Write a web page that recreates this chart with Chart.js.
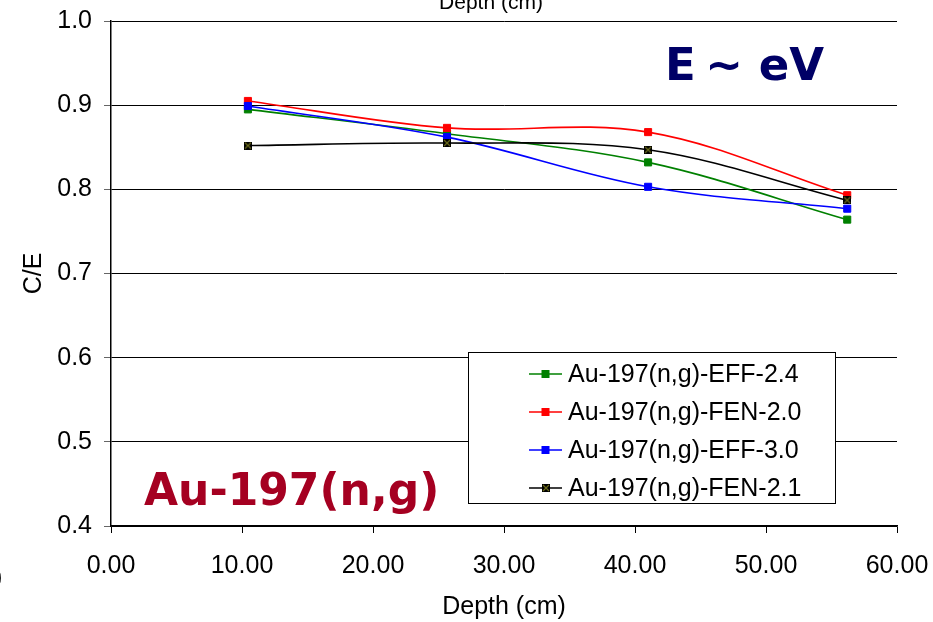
<!DOCTYPE html>
<html><head><meta charset="utf-8">
<script src="https://cdn.jsdelivr.net/npm/chart.js@4/dist/chart.umd.min.js"></script>
<style>html,body{margin:0;padding:0;background:#fff;overflow:hidden}canvas{display:block}</style>
</head><body>
<canvas id="c" width="933" height="622"></canvas>
<script>
// ---- data ----
const depths = [10.45, 25.65, 41.0, 56.2];
const eff24 = [0.895, 0.866, 0.832, 0.764];
const fen20 = [0.905, 0.873, 0.868, 0.793];
const eff30 = [0.899, 0.862, 0.803, 0.777];
const fen21 = [0.852, 0.855, 0.847, 0.787];
const seriesNames = ['Au-197(n,g)-EFF-2.4', 'Au-197(n,g)-FEN-2.0', 'Au-197(n,g)-EFF-3.0', 'Au-197(n,g)-FEN-2.1'];
const seriesColors = ['#008000', '#ff0000', '#0000ff', '#000000'];
const xAxisTitle = 'Depth (cm)';
const yAxisTitle = 'C/E';
const energyLabel = 'E';
const energyLabel2 = '~ eV';
const reactionLabel = 'Au-197(n,g)';

const FONT = "'Liberation Sans', Arial, sans-serif";

// marker with an X for the FEN-2.1 series
function xMarker() {
  const c = document.createElement('canvas');
  c.width = 8; c.height = 8;
  const g = c.getContext('2d');
  g.fillStyle = '#000'; g.fillRect(0, 0, 8, 8);
  g.strokeStyle = '#6b6b1a'; g.lineWidth = 1.2;
  g.beginPath(); g.moveTo(1, 1); g.lineTo(7, 7); g.moveTo(7, 1); g.lineTo(1, 7); g.stroke();
  return c;
}
const blackMarker = xMarker();

function toPts(vals) { return depths.map((d, i) => ({ x: d, y: vals[i] })); }
const allVals = [eff24, fen20, eff30, fen21];

const datasets = allVals.map((v, i) => ({
  label: seriesNames[i],
  data: toPts(v),
  borderColor: seriesColors[i],
  backgroundColor: seriesColors[i],
  borderWidth: 1.6,
  tension: 0.35,
  pointStyle: i === 3 ? blackMarker : 'rect',
  pointRadius: 5,
  pointBorderWidth: 1,
  pointBorderColor: seriesColors[i],
  pointBackgroundColor: seriesColors[i],
  order: 4 - i
}));

const annotations = {
  id: 'annotations',
  afterDatasetsDraw(chart) {
    const ctx = chart.ctx;
    ctx.save();
    // legend box
    const lx = 468.5, ly = 352.5, lw = 367, lh = 151;
    ctx.fillStyle = '#fff';
    ctx.fillRect(lx, ly, lw, lh);
    ctx.strokeStyle = '#000'; ctx.lineWidth = 1;
    ctx.strokeRect(lx, ly, lw, lh);
    ctx.font = '25px ' + FONT;
    ctx.textBaseline = 'middle'; ctx.textAlign = 'left';
    for (let i = 0; i < seriesNames.length; i++) {
      const y = 374 + i * 38;
      ctx.strokeStyle = seriesColors[i]; ctx.lineWidth = 1.6;
      ctx.beginPath(); ctx.moveTo(529, y); ctx.lineTo(562, y); ctx.stroke();
      if (i === 3) ctx.drawImage(blackMarker, 542, y - 4);
      else { ctx.fillStyle = seriesColors[i]; ctx.fillRect(541.5, y - 4, 8, 8); }
      ctx.fillStyle = '#000';
      ctx.fillText(seriesNames[i], 568, y + 1);
    }
    // E ~ eV
    ctx.fillStyle = '#000066';
    ctx.font = "bold 45px 'DejaVu Sans', Verdana, sans-serif";
    ctx.textBaseline = 'alphabetic';
    ctx.textAlign = 'left';
    ctx.fillText(energyLabel, 665, 80);
    ctx.textAlign = 'right';
    ctx.fillText(energyLabel2, 824, 80);
    // Au-197(n,g)
    ctx.fillStyle = '#a50021';
    ctx.font = "bold 44px 'DejaVu Sans', Verdana, sans-serif";
    ctx.textAlign = 'left';
    ctx.fillText(reactionLabel, 144, 505);
    // cut-off title at very top
    ctx.fillStyle = '#000';
    ctx.font = '21px ' + FONT;
    ctx.textAlign = 'center';
    ctx.fillText(xAxisTitle, 491, 9);
    // partial glyph at left edge
    ctx.font = '25px ' + FONT;
    ctx.textAlign = 'right';
    ctx.fillText('0', 2, 587);
    ctx.restore();
  }
};

new Chart(document.getElementById('c'), {
  type: 'line',
  data: { datasets },
  plugins: [annotations],
  options: {
    responsive: false,
    animation: false,
    layout: { padding: { top: 21, right: 36, left: 0, bottom: 0 } },
    plugins: { legend: { display: false }, tooltip: { enabled: false } },
    scales: {
      x: {
        type: 'linear', min: 0, max: 60,
        afterFit(s) { s.height = 96; s.paddingLeft = 0; s.paddingRight = 0; },
        ticks: { stepSize: 10, color: '#000', font: { size: 25, family: FONT }, padding: 18,
                 callback: v => Number(v).toFixed(2), maxRotation: 0 },
        grid: { drawOnChartArea: false, drawTicks: true, tickLength: 7, color: '#000', tickColor: '#000' },
        border: { display: true, color: '#000', width: 1.5 },
        title: { display: true, text: xAxisTitle, color: '#000', font: { size: 25, family: FONT }, padding: { top: 0, bottom: 0 } }
      },
      y: {
        min: 0.4, max: 1.0,
        afterFit(s) { s.width = 111; s.paddingTop = 0; s.paddingBottom = 0; },
        ticks: { stepSize: 0.1, color: '#000', font: { size: 25, family: FONT }, padding: 12,
                 callback: v => Number(v).toFixed(1) },
        grid: { color: '#000', lineWidth: 1, drawTicks: true, tickLength: 7, tickColor: '#666' },
        border: { display: true, color: '#000', width: 1.5 },
        title: { display: true, text: yAxisTitle, color: '#000', font: { size: 25, family: FONT }, padding: { top: 19, bottom: 0 } }
      }
    }
  }
});
</script>
</body></html>
